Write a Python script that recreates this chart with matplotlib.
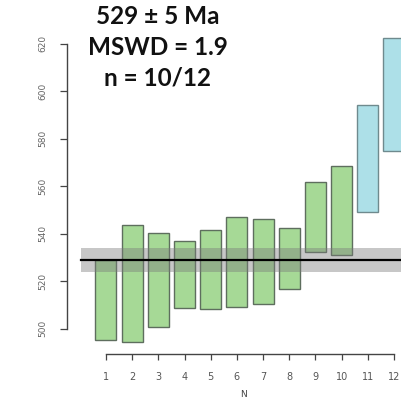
import matplotlib
matplotlib.use("Agg")
import matplotlib.pyplot as plt
from matplotlib.patches import Rectangle

# U-Pb ages per analysis (Ma): lower and upper bounds of each error box
analysis = [1, 2, 3, 4, 5, 6, 7, 8, 9, 10, 11, 12]
age_low = [495.2, 494.4, 500.8, 508.6, 508.2, 509.2, 510.3, 516.5, 532.1, 530.8, 548.9, 574.9]
age_high = [528.8, 543.6, 540.3, 537.0, 541.5, 546.8, 546.2, 542.2, 561.8, 568.5, 594.1, 622.4]
accepted = [True] * 10 + [False] * 2

mean_age = 529
mean_err = 5
mswd = 1.9

y_ticks = [500, 520, 540, 560, 580, 600, 620]
x_ticks = analysis

W = H = 401
fig = plt.figure(figsize=(W / 100, H / 100), dpi=100)

# axes geometry in pixels
px_per_x = 26.18
px_per_y = 2.375
x_lo, x_hi = -0.5, 13.0
y_lo, y_hi = 489.3, 625.0
ax_left = 66.7
ax_bottom = H - 354.0
ax_w = (x_hi - x_lo) * px_per_x
ax_h = (y_hi - y_lo) * px_per_y
ax = fig.add_axes([ax_left / W, ax_bottom / H, ax_w / W, ax_h / H])
ax.set_xlim(x_lo, x_hi)
ax.set_ylim(y_lo, y_hi)

green = "#a6d996"
blue = "#ade0e8"
box_w = 0.8
for n, lo, hi, ok in zip(analysis, age_low, age_high, accepted):
    ax.add_patch(Rectangle((n - box_w / 2, lo), box_w, hi - lo,
                           facecolor=green if ok else blue,
                           edgecolor="#5e6e5e" if ok else "#6f8a8e",
                           linewidth=1.0, zorder=2))

# weighted mean and its uncertainty band
ax.axhspan(mean_age - mean_err, mean_age + mean_err, xmin=(0.05 - x_lo) / (x_hi - x_lo),
           xmax=1, color="#7a7a7a", alpha=0.42, linewidth=0, zorder=3)
ax.plot([0.05, x_hi], [mean_age, mean_age], color="black", linewidth=1.6, zorder=4)

for s in ["top", "right"]:
    ax.spines[s].set_visible(False)
ax.spines["left"].set_bounds(y_ticks[0], y_ticks[-1])
ax.spines["bottom"].set_bounds(x_ticks[0], x_ticks[-1])
for s in ["left", "bottom"]:
    ax.spines[s].set_color("#444444")
    ax.spines[s].set_linewidth(1.0)

ax.set_yticks(y_ticks)
ax.set_yticklabels([str(v) for v in y_ticks], rotation=90, va="center")
ax.set_xticks(x_ticks)
ax.tick_params(axis="y", direction="out", length=5, width=0.9, color="#444444",
               labelsize=6.5, labelcolor="#666666", pad=9)
ax.tick_params(axis="x", direction="out", length=4, width=0.9, color="#444444",
               labelsize=7, labelcolor="#555555", pad=9)
ax.set_xlabel("N", fontsize=6.5, color="#444444", labelpad=6)
ax.patch.set_alpha(0)

title_lines = [f"{mean_age} \u00b1 {mean_err} Ma", f"MSWD = {mswd}",
               f"n = {sum(accepted)}/{len(accepted)}"]
for i, line in enumerate(title_lines):
    fig.text(158 / W, 1 - (17 + 30.5 * i) / H, line, ha="center", va="center",
             fontsize=17.5, fontweight="bold", family="Lato", color="#111111")

fig.savefig("out.png", dpi=100)
